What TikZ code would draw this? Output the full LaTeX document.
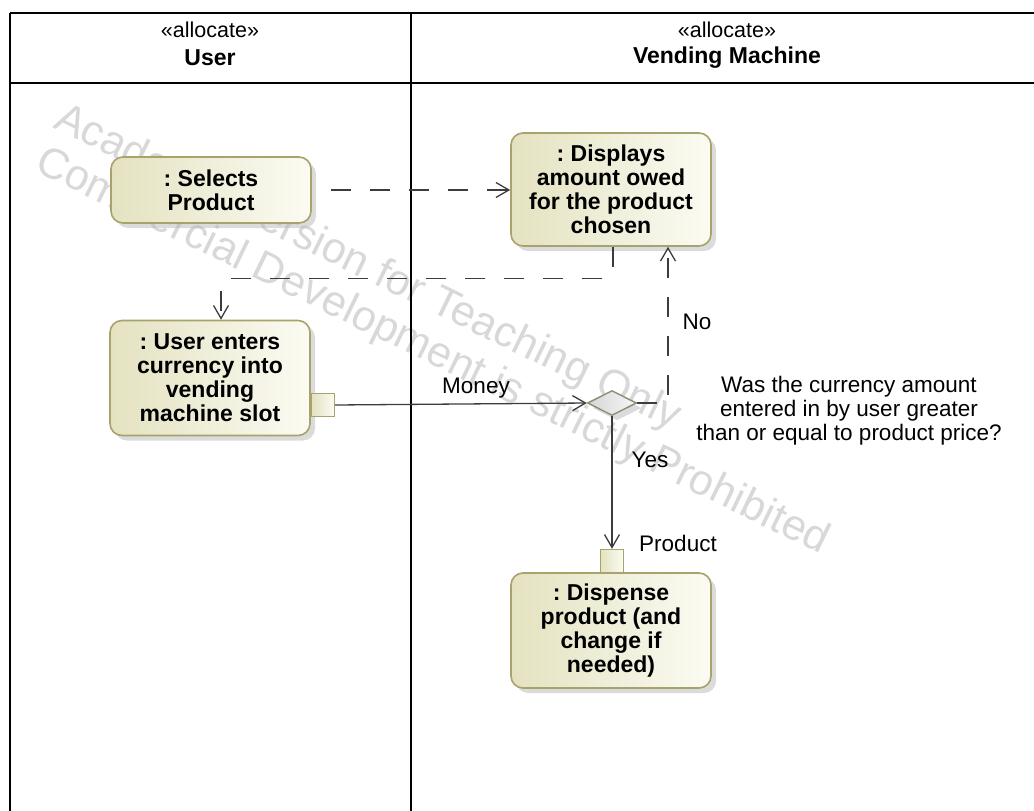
\documentclass[tikz,border=0pt]{standalone}
\usepackage{fontspec}
\setmainfont{Liberation Sans}
\usetikzlibrary{arrows.meta,shapes.geometric,shadows}
\frenchspacing

\definecolor{actL}{HTML}{E4E2C0}
\definecolor{actR}{HTML}{FBFBF3}
\definecolor{actB}{HTML}{A8A26C}
\definecolor{decL}{HTML}{D6D6D6}
\definecolor{decR}{HTML}{F6F6F6}
\definecolor{decB}{HTML}{8E8C74}
\definecolor{wire}{HTML}{3C3C3C}
\definecolor{wmark}{HTML}{D8D8D8}

\begin{document}
\begin{tikzpicture}[x=1pt,y=-1pt,
  lane/.style={line width=2.6pt, black},
  stereo/.style={inner sep=0pt, font=\fontsize{21.5}{24}\selectfont},
  lanename/.style={inner sep=0pt, font=\bfseries\fontsize{23}{24}\selectfont},
  castshadow/.style={drop shadow={shadow xshift=5pt, shadow yshift=-5pt, fill=black!28}},
  action/.style={rectangle, rounded corners=12pt, draw=actB, line width=1.6pt,
    left color=actL, right color=actR, minimum width=200pt, inner sep=0pt,
    align=center, text=black, font=\bfseries\fontsize{23}{24}\selectfont, castshadow},
  pinbox/.style={rectangle, draw=actB, line width=1.4pt, left color=actL,
    right color=actR, minimum size=23pt, inner sep=0pt},
  decision/.style={diamond, draw=decB, line width=1.4pt, left color=decL,
    right color=decR, minimum width=49pt, minimum height=25pt, inner sep=0pt, castshadow},
  lbl/.style={inner sep=0pt, align=center, font=\fontsize{22.5}{24}\selectfont},
  wm/.style={inner sep=0pt, anchor=base west, rotate=-26, text=wmark,
    font=\fontsize{43}{43}\selectfont},
  flow/.style={draw=wire, line width=1.3pt, -{Straight Barb[length=13pt,width=15pt]}},
  objflow/.style={flow, dash pattern=on 20pt off 19pt}
]
\useasboundingbox (0,0) rectangle (1034,811);

% watermark behind everything
\node[wm] (wm1) at (52,127) {Academic Version for Teaching Only};
\node[wm] (wm2) at (33,170) {Commercial Development is strictly Prohibited};

% swimlane frame
\draw[lane] (10,13) -- (1044,13);
\draw[lane] (10,83) -- (1044,83);
\draw[lane] (10,13) -- (10,822);
\draw[lane] (411,13) -- (411,822);

% lane headers
\node[stereo]   (st1) at (210,30) {«allocate»};
\node[lanename] (ln1) at (210,58) {User};
\node[stereo]   (st2) at (727,30) {«allocate»};
\node[lanename] (ln2) at (727,58) {Vending Machine};

% actions
\node[action, minimum height=66pt]  (sel)  at (211,190)   {: Selects\\Product};
\node[action, minimum height=113pt] (disp) at (611,189.5) {: Displays\\amount owed\\for the product\\chosen};
\node[action, minimum height=115pt] (ue)   at (210,378)   {: User enters\\currency into\\vending\\machine slot};
\node[action, minimum height=115pt] (disp2) at (611,630.5) {: Dispense\\product (and\\change if\\needed)};

% pins and decision
\node[pinbox] (uepin) at (323,405) {};
\node[pinbox] (dpin)  at (612,561) {};
\node[decision] (dec) at (612,403) {};

% connectors
\draw[objflow, dash phase=20pt] (sel.east) -- (sel.east -| disp.west);
\draw[objflow, rounded corners=8pt] ([xshift=2pt]disp.south) -- ++(0,32) -| ([xshift=11pt]ue.north);
\draw[flow] (uepin.east) -- (dec.west);
\draw[objflow] (dec.east) -| ([xshift=57pt]disp.south);
\draw[flow] (dec.south) -- (dpin.north);

% labels
\node[lbl] (money) at (476,388) {Money};
\node[lbl] (no)    at (697,322) {No};
\node[lbl] (yes)   at (650,460) {Yes};
\node[lbl] (prod)  at (678,543) {Product};
\node[lbl] (quest) at (849,411) {Was the currency amount\\entered in by user greater\\than or equal to product price?};
\end{tikzpicture}
\end{document}
